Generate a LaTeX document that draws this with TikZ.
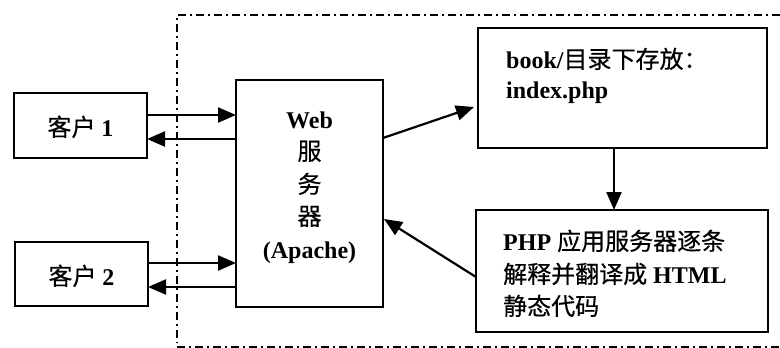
\documentclass[tikz,border=0pt]{standalone}
\usepackage{fontspec}
\setmainfont{Liberation Serif}
\newfontfamily\cjk[FakeBold=0.5]{Noto Sans CJK SC}
\newcommand\zh[1]{{\cjk\mdseries #1}}
\usetikzlibrary{arrows.meta}
\tikzset{
  box/.style={draw, line width=2.2pt, inner sep=0pt, outer sep=0pt},
  arr/.style={line width=2.2pt, -{Triangle[length=18pt,width=15pt]}},
  frame/.style={line width=2pt, dash pattern=on 8pt off 4pt on 2pt off 4pt},
  txt/.style={inner sep=0pt, font=\fontsize{24}{30}\selectfont\bfseries}
}
\begin{document}
\begin{tikzpicture}[x=1pt,y=-1pt]
\useasboundingbox (0,0) rectangle (780,348);
% frame
\coordinate (ftl) at (177,15);
\coordinate (ftr) at (780,15);
\coordinate (fbl) at (177,343);
\coordinate (bl) at (177,346.5);
\coordinate (br) at (780,346.5);
\draw[frame] (ftr) -- (ftl) -- (fbl);
\draw[frame] (bl) -- (br);
% boxes
\node[box, minimum width=133pt, minimum height=65pt] (c1) at (80.5,125.5) {};
\node[box, minimum width=133pt, minimum height=64pt] (c2) at (81.5,274) {};
\node[box, minimum width=147pt, minimum height=227pt] (web) at (309.5,193.5) {};
\node[box, minimum width=289pt, minimum height=120pt] (book) at (622.5,88) {};
\node[box, minimum width=292pt, minimum height=122pt] (php) at (622,271) {};
% texts
\node[txt, anchor=base] (t1) at (80.5,136) {\zh{客户} 1};
\node[txt, anchor=base] (t2) at (81.5,285) {\zh{客户} 2};
\node[txt, anchor=base] (w1) at (309.5,128) {Web};
\node[txt, anchor=base] (w2) at (309.5,160) {\zh{服}};
\node[txt, anchor=base] (w3) at (309.5,193) {\zh{务}};
\node[txt, anchor=base] (w4) at (309.5,225) {\zh{器}};
\node[txt, anchor=base] (w5) at (309.5,258) {(Apache)};
\node[txt, anchor=base west] (b1) at (506,68) {book/\zh{目录下存放：}};
\node[txt, anchor=base west] (b2) at (506,98) {index.php};
\node[txt, anchor=base west] (p1) at (503,250) {PHP \zh{应用服务器逐条}};
\node[txt, anchor=base west] (p2) at (503,283) {\zh{解释并翻译成} HTML};
\node[txt, anchor=base west] (p3) at (503,315) {\zh{静态代码}};
% arrows
\draw[arr] (c1.east |- 0,115) -- (web.west |- 0,115);
\draw[arr] (web.west |- 0,139) -- (c1.east |- 0,139);
\draw[arr] (c2.east |- 0,263) -- (web.west |- 0,263);
\draw[arr] (web.west |- 0,287) -- (c2.east |- 0,287);
\draw[arr] (web.east |- 0,138) -- (474,107);
\draw[arr] (book.south -| 614,0) -- (php.north -| 614,0);
\draw[arr] (php.west |- 0,277) -- (384,219);
\end{tikzpicture}
\end{document}
